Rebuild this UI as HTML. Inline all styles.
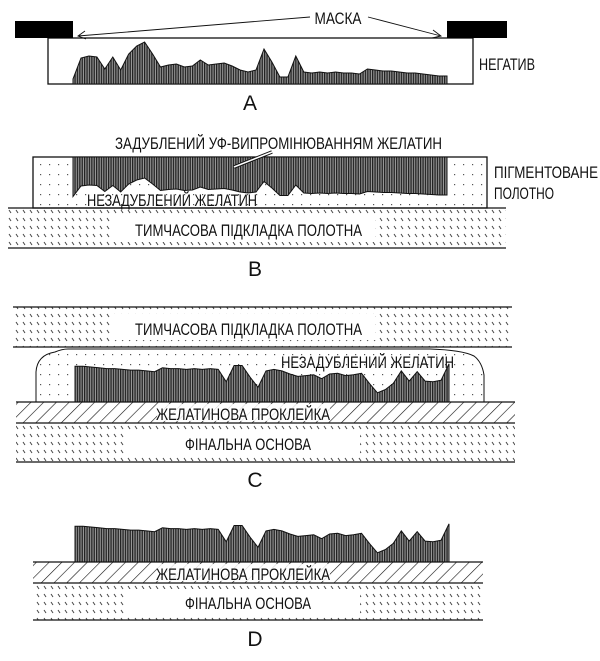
<!DOCTYPE html>
<html><head><meta charset="utf-8"><style>
html,body{margin:0;padding:0;background:#fff}
svg{display:block}
text{font-family:"Liberation Sans Narrow","Liberation Sans",sans-serif;fill:#111}
.lbl{font-size:17px}
.let{font-family:"Liberation Sans",sans-serif;font-size:21px}
</style></head><body>
<svg id="fig" width="600" height="661" viewBox="0 0 600 661" xmlns="http://www.w3.org/2000/svg">
<defs>
<pattern id="dots" width="9" height="10" patternUnits="userSpaceOnUse"><rect x="4" y="4" width="1.2" height="1.2" fill="#555"/></pattern>
<pattern id="ticks" width="7" height="8" patternUnits="userSpaceOnUse"><line x1="2" y1="2" x2="4" y2="5" stroke="#444" stroke-width="1"/></pattern>
<pattern id="hatch" width="9" height="9" patternUnits="userSpaceOnUse" patternTransform="rotate(45)"><line x1="0" y1="0" x2="0" y2="9" stroke="#111" stroke-width="1.2"/></pattern>
<pattern id="vlines" width="2.4" height="4" patternUnits="userSpaceOnUse"><rect width="2.4" height="4" fill="#999"/><rect width="1.3" height="4" fill="#222"/></pattern>
</defs>

<!-- PANEL A -->
<g>
<rect x="48" y="38" width="425" height="46" fill="#fff" stroke="#111" stroke-width="1.3"/>
<rect x="15" y="21" width="58" height="17" fill="#000"/>
<rect x="447" y="21" width="60" height="17" fill="#000"/>
<path id="profA" fill="url(#vlines)" stroke="#111" stroke-width="1"/>
<text class="lbl" x="338" y="24" text-anchor="middle" textLength="47" lengthAdjust="spacingAndGlyphs">МАСКА</text>
<path d="M310 17 L78 36 M85 31 L78 36 L86 39" fill="none" stroke="#111" stroke-width="0.9"/>
<path d="M368 17 L441 36 M433 30 L441 36 L432 38" fill="none" stroke="#111" stroke-width="0.9"/>
<text class="lbl" x="479" y="70" textLength="56" lengthAdjust="spacingAndGlyphs">НЕГАТИВ</text>
<text class="let" x="250" y="110" text-anchor="middle">A</text>
</g>

<!-- PANEL B -->
<g>
<text class="lbl" x="115" y="149" textLength="327" lengthAdjust="spacingAndGlyphs">ЗАДУБЛЕНИЙ УФ-ВИПРОМІНЮВАННЯМ ЖЕЛАТИН</text>
<rect x="33" y="157" width="454" height="51" fill="url(#dots)" stroke="#111" stroke-width="1.3"/>
<path id="profB" fill="url(#vlines)" stroke="#111" stroke-width="1"/>
<path d="M272 152 L234 167" stroke="#111" stroke-width="3.5"/>
<path d="M272 152 L234 167" stroke="#fff" stroke-width="1.5"/>
<text class="lbl" x="87" y="206" textLength="170" lengthAdjust="spacingAndGlyphs">НЕЗАДУБЛЕНИЙ ЖЕЛАТИН</text>
<text class="lbl" x="494" y="178" textLength="104" lengthAdjust="spacingAndGlyphs">ПІГМЕНТОВАНЕ</text>
<text class="lbl" x="494" y="199" textLength="60" lengthAdjust="spacingAndGlyphs">ПОЛОТНО</text>
<rect x="8" y="208" width="498" height="40" fill="url(#ticks)"/>
<line x1="8" y1="208" x2="506" y2="208" stroke="#111" stroke-width="1.3"/>
<line x1="8" y1="248" x2="506" y2="248" stroke="#111" stroke-width="1.3"/>
<rect x="113" y="216" width="262" height="26" fill="#fff"/>
<text class="lbl" x="135" y="236" textLength="227" lengthAdjust="spacingAndGlyphs">ТИМЧАСОВА ПІДКЛАДКА ПОЛОТНА</text>
<text class="let" x="255" y="276" text-anchor="middle">B</text>
</g>

<!-- PANEL C -->
<g>
<rect x="13" y="307" width="499" height="40" fill="url(#ticks)"/>
<line x1="13" y1="307" x2="512" y2="307" stroke="#111" stroke-width="1.3"/>
<line x1="13" y1="347" x2="512" y2="347" stroke="#111" stroke-width="1.3"/>
<rect x="113" y="314" width="262" height="26" fill="#fff"/>
<text class="lbl" x="135" y="335" textLength="227" lengthAdjust="spacingAndGlyphs">ТИМЧАСОВА ПІДКЛАДКА ПОЛОТНА</text>
<path d="M36 402 L36 372 Q37 355 55 352 Q62 349 68 349 L430 349 Q462 350 474 356 Q482 362 484 375 L484 402 Z" fill="url(#dots)" stroke="#111" stroke-width="1"/>
<path id="profC" fill="url(#vlines)" stroke="#111" stroke-width="1"/>
<text class="lbl" x="281" y="368" textLength="173" lengthAdjust="spacingAndGlyphs">НЕЗАДУБЛЕНИЙ ЖЕЛАТИН</text>
<rect x="16" y="402" width="499" height="21" fill="url(#hatch)"/>
<line x1="16" y1="402" x2="515" y2="402" stroke="#111" stroke-width="1.3"/>
<line x1="16" y1="423" x2="515" y2="423" stroke="#111" stroke-width="1.3"/>
<rect x="157" y="404" width="173" height="17" fill="#fff" opacity="0.85"/>
<text class="lbl" x="156" y="420" textLength="174" lengthAdjust="spacingAndGlyphs">ЖЕЛАТИНОВА ПРОКЛЕЙКА</text>
<rect x="16" y="423" width="499" height="39" fill="url(#ticks)"/>
<line x1="16" y1="462" x2="515" y2="462" stroke="#111" stroke-width="1.3"/>
<rect x="125" y="430" width="235" height="26" fill="#fff"/>
<text class="lbl" x="185" y="450" textLength="126" lengthAdjust="spacingAndGlyphs">ФІНАЛЬНА ОСНОВА</text>
<text class="let" x="255" y="487" text-anchor="middle">C</text>
</g>

<!-- PANEL D -->
<g>
<path id="profD" fill="url(#vlines)" stroke="#111" stroke-width="1"/>
<rect x="33" y="562" width="450" height="21" fill="url(#hatch)"/>
<line x1="33" y1="562" x2="483" y2="562" stroke="#111" stroke-width="1.3"/>
<line x1="33" y1="583" x2="483" y2="583" stroke="#111" stroke-width="1.3"/>
<rect x="157" y="564" width="173" height="17" fill="#fff" opacity="0.85"/>
<text class="lbl" x="156" y="580" textLength="174" lengthAdjust="spacingAndGlyphs">ЖЕЛАТИНОВА ПРОКЛЕЙКА</text>
<rect x="33" y="583" width="450" height="37" fill="url(#ticks)"/>
<line x1="33" y1="620" x2="483" y2="620" stroke="#111" stroke-width="1.3"/>
<rect x="125" y="589" width="235" height="26" fill="#fff"/>
<text class="lbl" x="185" y="609" textLength="126" lengthAdjust="spacingAndGlyphs">ФІНАЛЬНА ОСНОВА</text>
<text class="let" x="255" y="646" text-anchor="middle">D</text>
</g>
</svg>
<script>
// negative density samples (relative heights, left to right)
const density = [5,26,28,27,15,27,14,30,38,42,30,17,19,20,17,18,24,19,20,21,18,14,12,14,35,22,7,7,28,12,11,12,11,12,11,11,10,15,14,13,13,12,11,11,10,9,8,8];
const x0 = 73, x1 = 447;
function xAt(i){ return x0 + (x1 - x0) * i / (density.length - 1); }
function xMir(i){ return x1 - (x1 - x0) * i / (density.length - 1) + 2; }
function yA(v){ return 84 - v; }
function yB(v){ return 157 + (42 - 0.5 * v); }
function yD(base, v){ return base - (42 - 0.78 * v); }

let dA = 'M' + x0 + ' 84';
density.forEach((v, i) => { dA += ' L' + xAt(i).toFixed(1) + ' ' + yA(v).toFixed(1); });
dA += ' L' + x1 + ' 84 Z';
document.getElementById('profA').setAttribute('d', dA);

let dB = 'M' + x0 + ' 157';
density.forEach((v, i) => { dB += ' L' + xAt(i).toFixed(1) + ' ' + yB(v).toFixed(1); });
dB += ' L' + x1 + ' 157 Z';
document.getElementById('profB').setAttribute('d', dB);

function mirrored(base){
  let d = 'M' + (x1 + 2) + ' ' + base;
  density.forEach((v, i) => { d += ' L' + xMir(i).toFixed(1) + ' ' + yD(base, v).toFixed(1); });
  d += ' L' + (x0 + 2) + ' ' + base + ' Z';
  return d;
}
document.getElementById('profC').setAttribute('d', mirrored(402));
document.getElementById('profD').setAttribute('d', mirrored(562));
</script>
</body></html>
